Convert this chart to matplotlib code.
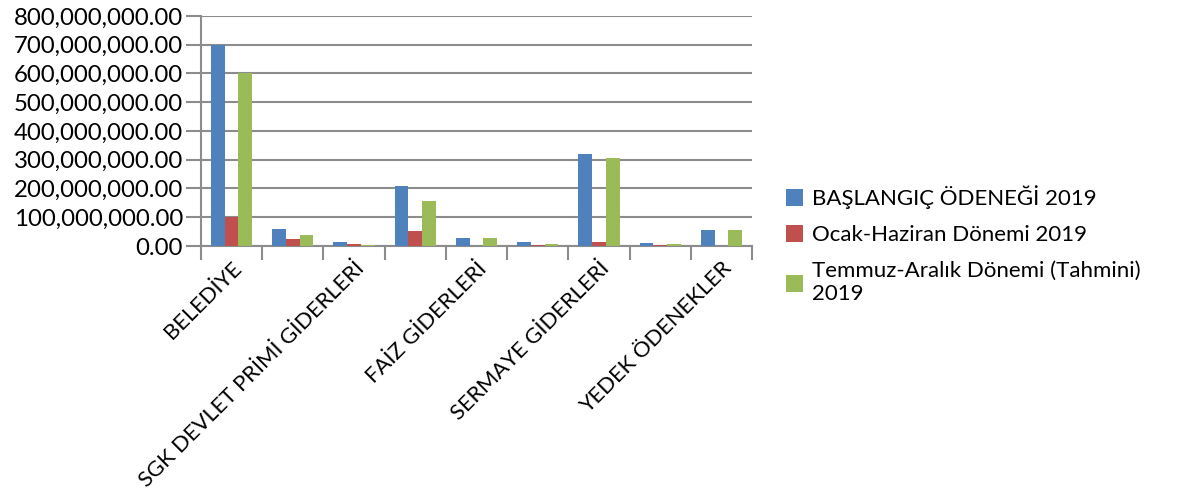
import numpy as np
import matplotlib.pyplot as plt

plt.rcParams['font.family'] = ['Lato', 'DejaVu Sans']

# Categories (Excel only shows every other label)
categories = ['BELEDİYE', 'PERSONEL GİDERLERİ', 'SGK DEVLET PRİMİ GİDERLERİ',
              'MAL VE HİZMET ALIM GİDERLERİ', 'FAİZ GİDERLERİ', 'CARİ TRANSFERLER',
              'SERMAYE GİDERLERİ', 'SERMAYE TRANSFERLERİ', 'YEDEK ÖDENEKLER']

baslangic = [700e6, 60e6, 13e6, 210e6, 27e6, 13e6, 320e6, 12e6, 57e6]
ocak_haziran = [102e6, 24e6, 6e6, 53e6, 0, 5e6, 13e6, 2e6, 0]
temmuz_aralik = [600e6, 38e6, 5e6, 155e6, 27e6, 8e6, 306e6, 8e6, 57e6]

series_names = ['BAŞLANGIÇ ÖDENEĞİ 2019', 'Ocak-Haziran Dönemi 2019',
                'Temmuz-Aralık Dönemi (Tahmini)\n2019']
colors = ['#4f81bd', '#c0504d', '#9bbb59']

fig = plt.figure(figsize=(11.8, 4.97), dpi=100)
ax = fig.add_axes([0.1703, 0.505, 0.467, 0.463])

x = np.arange(len(categories))
w = 0.224
for i, (vals, name, c) in enumerate(zip([baslangic, ocak_haziran, temmuz_aralik], series_names, colors)):
    ax.bar(x + (i - 1) * w, vals, width=w, color=c, label=name, zorder=3)

ax.set_xlim(-0.5, len(categories) - 0.5)
ax.set_ylim(0, 800e6)
yt = np.arange(0, 800e6 + 1, 100e6)
ax.set_yticks(yt)
ax.set_yticklabels([f'{v:,.2f}' for v in yt], fontsize=17.3)
ax.yaxis.grid(True, color='#8c8c8c', linewidth=1.5, zorder=0)

ax.set_xticks(x[::2])
ax.set_xticklabels(categories[::2], rotation=45, ha='right', rotation_mode='anchor', fontsize=15.8)
ax.set_xticks(np.arange(-0.5, len(categories), 1), minor=True)
ax.tick_params(axis='x', which='major', length=0, pad=9)
ax.tick_params(axis='x', which='minor', length=10, color='#8c8c8c', width=1.5)
ax.tick_params(axis='y', length=11, color='#8c8c8c', width=1.5, pad=2)

for s in ['top', 'right']:
    ax.spines[s].set_visible(False)
for s in ['left', 'bottom']:
    ax.spines[s].set_color('#8c8c8c')
    ax.spines[s].set_linewidth(1.5)

ax.legend(loc='center left', bbox_to_anchor=(1.045, 0.005), frameon=False, fontsize=16,
          handlelength=0.8, handleheight=0.8, handletextpad=0.4, labelspacing=0.72,
          borderaxespad=0)

fig.savefig('out.png', dpi=100)
